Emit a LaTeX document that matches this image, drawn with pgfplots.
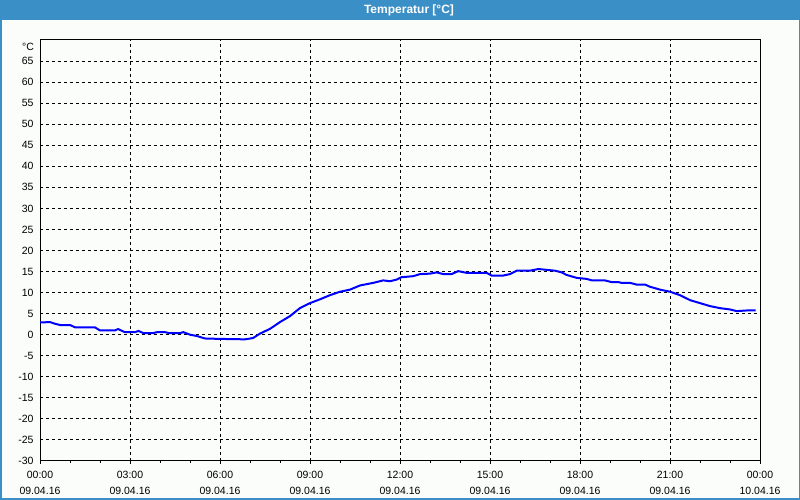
\documentclass[border=0pt]{standalone}
\usepackage{fontspec}
\setmainfont{Liberation Sans}
\usepackage{pgfplots}
\pgfplotsset{compat=1.18}
\definecolor{barblue}{RGB}{59,143,199}
\definecolor{bg}{RGB}{251,253,251}
\begin{document}
\begin{tikzpicture}[x=1pt,y=1pt]
\fill[bg] (0,0) rectangle (800,500);
\fill[barblue] (0,480) rectangle (800,500);
\draw[barblue,line width=1.5pt] (0.75,0.75) rectangle (799.25,499.25);
\node[text=white,font=\fontsize{12}{14}\selectfont\bfseries] at (409,490) {Temperatur [°C]};
\begin{axis}[at={(40pt,39pt)}, anchor=south west, width=720pt, height=421pt, scale only axis,
  xmin=0, xmax=24, ymin=-30, ymax=70,
  xtick={0,3,6,9,12,15,18,21,24},
  minor xtick={1,2,4,5,7,8,10,11,13,14,16,17,19,20,22,23},
  xticklabels={{00:00\\09.04.16},{03:00\\09.04.16},{06:00\\09.04.16},{09:00\\09.04.16},{12:00\\09.04.16},{15:00\\09.04.16},{18:00\\09.04.16},{21:00\\09.04.16},{00:00\\10.04.16}},
  ytick={-30,-25,-20,-15,-10,-5,0,5,10,15,20,25,30,35,40,45,50,55,60,65,70},
  yticklabels={-30,-25,-20,-15,-10,-5,0,5,10,15,20,25,30,35,40,45,50,55,60,65,{}},
  xtick pos=bottom, ytick pos=left,
  tick align=outside,
  major tick length=3pt, minor tick length=2pt,
  ytick style={draw=none},
  xtick style={black, line width=1pt},
  minor tick style={black, line width=1pt},
  grid=major,
  major grid style={black, line width=1pt, dash pattern=on 3pt off 3pt},
  axis line style={black, line width=1pt},
  axis background/.style={fill=bg},
  xticklabel style={align=center, font=\fontsize{10.5}{15.8}\selectfont, yshift=-4pt},
  yticklabel style={font=\fontsize{10.5}{12}\selectfont},
]
\addplot[blue, line width=2pt] coordinates {
(0,2.9) (0.33,3.0) (0.5,2.6) (0.67,2.3) (1.0,2.3) (1.17,1.75) (1.83,1.75)
(2.0,1.0) (2.5,1.0) (2.6,1.35) (2.83,0.6) (3.17,0.6) (3.28,0.9) (3.44,0.4)
(3.78,0.4) (3.9,0.6) (4.17,0.6) (4.28,0.4) (4.67,0.4) (4.78,0.6) (5.0,0.0)
(5.22,-0.3) (5.5,-0.9) (6.0,-1.0) (6.83,-1.1) (7.1,-0.8) (7.33,0.25) (7.67,1.4)
(8.0,3.0) (8.33,4.4) (8.67,6.35) (9.0,7.5) (9.33,8.4) (9.67,9.4) (10.0,10.2)
(10.33,10.7) (10.67,11.7) (11.1,12.3) (11.44,12.9) (11.67,12.7) (11.89,13.1)
(12.05,13.65) (12.44,13.9) (12.67,14.4) (13.0,14.5) (13.22,14.8) (13.44,14.4)
(13.72,14.4) (13.94,15.1) (14.22,14.7) (14.89,14.7) (15.05,14.05) (15.44,14.05)
(15.67,14.4) (15.89,15.2) (16.33,15.2) (16.61,15.6) (16.89,15.4) (17.17,15.2)
(17.39,14.8) (17.55,14.2) (17.89,13.5) (18.22,13.25) (18.4,12.9) (18.83,12.9)
(19.05,12.5) (19.28,12.5) (19.39,12.3) (19.67,12.3) (19.89,11.9) (20.17,11.9)
(20.33,11.4) (20.67,10.7) (21.0,10.2) (21.33,9.4) (21.67,8.2) (22.0,7.5)
(22.33,6.8) (22.67,6.3) (23.0,6.0) (23.22,5.6) (23.55,5.75) (23.85,5.75)
};
\end{axis}
\node[anchor=east,font=\fontsize{10.5}{12}\selectfont] at (37.5,453.5) {°C};
\end{tikzpicture}
\end{document}
